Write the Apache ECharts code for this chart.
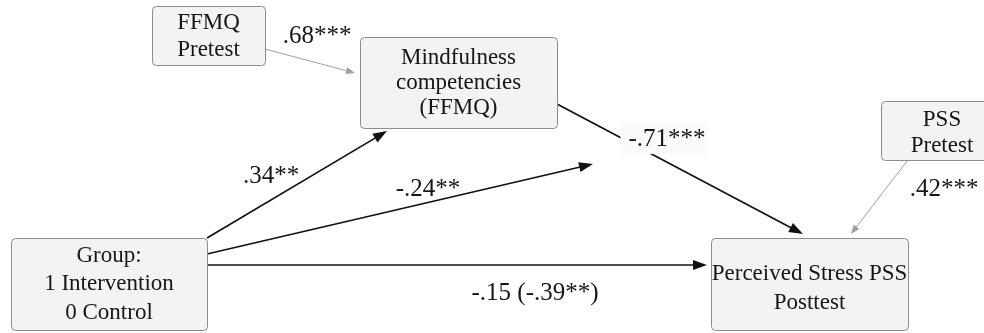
<!DOCTYPE html>
<html><head><meta charset="utf-8">
<script src="https://cdn.jsdelivr.net/npm/echarts@6/dist/echarts.min.js"></script>
<style>html,body{margin:0;padding:0;background:#fff}#c{width:984px;height:333px}</style>
</head><body><div id="c"></div>
<script>
// ---- diagram content ----
const nodeNames = ['Group', 'Mindfulness', 'PSS Posttest', 'FFMQ Pretest', 'PSS Pretest'];
const nodeTexts = [
  'Group:\n1 Intervention\n0 Control',
  'Mindfulness\ncompetencies\n(FFMQ)',
  'Perceived Stress PSS\nPosttest',
  'FFMQ\nPretest',
  'PSS\nPretest'
];
const pathCoefficients = ['.34**', '-.24**', '-.15 (-.39**)', '-.71***', '.68***', '.42***'];
const pathKinds = ['main', 'main', 'main', 'main', 'control', 'control'];

// ---- layout (diagram units = axis units) ----
const nodeBoxes = [[11, 238, 207, 330], [360, 37, 557, 128], [711, 238, 908, 330], [152, 6, 265, 65], [881, 101, 1002, 160]];
const nodeTextCenters = [[109, 284], [458.5, 83], [809.5, 288], [208.5, 36.5], [942, 133]];
const nodeLineHeights = [28.5, 25, 29, 27, 26];
const pathStarts = [[207, 238], [207, 254], [207, 265], [557, 104], [265, 49], [907, 161]];
const pathTips = [[387, 131], [593, 164], [707, 265], [803, 234], [355, 73], [851, 234]];
const labelCenters = [[271, 176], [428, 189], [535, 293], [664, 139], [317, 36], [944, 189]];
const labelBackground = [false, false, false, true, false, false];

const FONT = '"Liberation Serif", "Times New Roman", serif';

const chart = echarts.init(document.getElementById('c'), null, {renderer: 'canvas'});

function boxItem(params, api) {
  const i = api.value(0);
  const b = nodeBoxes[i];
  const p0 = api.coord([b[0], b[1]]);
  const p1 = api.coord([b[2], b[3]]);
  const c = api.coord(nodeTextCenters[i]);
  return {
    type: 'group',
    children: [
      {type: 'rect', shape: {x: Math.round(p0[0]) + 0.5, y: Math.round(p0[1]) + 0.5, width: Math.round(p1[0] - p0[0]), height: Math.round(p1[1] - p0[1]), r: 4},
        style: {fill: '#f3f3f3', stroke: '#8c8c8c', lineWidth: 1}},
      {type: 'text', x: c[0], y: c[1],
        style: {text: nodeTexts[i], fill: '#161616', fontFamily: FONT, fontSize: 23, lineHeight: nodeLineHeights[i], align: 'center', verticalAlign: 'middle'}}
    ]
  };
}

function pathItem(params, api) {
  const i = api.value(0);
  const a = api.coord(pathStarts[i]);
  const t = api.coord(pathTips[i]);
  const main = pathKinds[i] === 'main';
  const L = main ? 14 : 9, W = main ? 5 : 3.5;
  const color = main ? '#111' : '#a0a0a0';
  const dx = t[0] - a[0], dy = t[1] - a[1];
  const len = Math.sqrt(dx * dx + dy * dy);
  const ux = dx / len, uy = dy / len;
  const bx = t[0] - ux * L, by = t[1] - uy * L;
  return {
    type: 'group',
    children: [
      {type: 'line', shape: {x1: a[0], y1: a[1], x2: bx + ux * 2, y2: by + uy * 2},
        style: {stroke: color, lineWidth: main ? 1.7 : 1}},
      {type: 'polygon', shape: {points: [[t[0], t[1]], [bx - uy * W, by + ux * W], [bx + uy * W, by - ux * W]]},
        style: {fill: color}}
    ]
  };
}

function labelItem(params, api) {
  const i = api.value(0);
  const c = api.coord(labelCenters[i]);
  const style = {text: pathCoefficients[i], fill: '#161616', fontFamily: FONT, fontSize: 25, align: 'center', verticalAlign: 'middle'};
  if (labelBackground[i]) {
    style.backgroundColor = '#fafafa';
    style.padding = [2, 2, 3, 8];
  }
  return {type: 'text', x: c[0], y: c[1], style: style};
}

const idx = arr => arr.map((_, i) => [i, 0]);

chart.setOption({
  animation: false,
  backgroundColor: '#ffffff',
  grid: {left: 0, right: 0, top: 0, bottom: 0},
  xAxis: {type: 'value', min: 0, max: 984, show: false},
  yAxis: {type: 'value', min: 0, max: 333, inverse: true, show: false},
  series: [
    {type: 'custom', name: 'paths', coordinateSystem: 'cartesian2d', renderItem: pathItem, data: idx(pathCoefficients), clip: false, silent: true, z: 1},
    {type: 'custom', name: 'nodes', coordinateSystem: 'cartesian2d', renderItem: boxItem, data: idx(nodeNames), clip: false, silent: true, z: 2},
    {type: 'custom', name: 'coefficients', coordinateSystem: 'cartesian2d', renderItem: labelItem, data: idx(pathCoefficients), clip: false, silent: true, z: 3}
  ]
});
</script>
</body></html>
